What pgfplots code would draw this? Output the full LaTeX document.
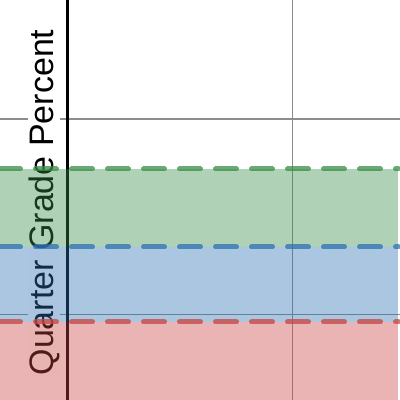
\documentclass[border=0pt]{standalone}
\usepackage{pgfplots}
\pgfplotsset{compat=1.18}
\usepackage{fontspec}
\setmainfont{Liberation Sans}
\definecolor{dred}{HTML}{C74440}
\definecolor{dblue}{HTML}{2D70B3}
\definecolor{dgreen}{HTML}{388C46}
\begin{document}
\begin{tikzpicture}
\begin{axis}[
  scale only axis, width=400pt, height=400pt,
  xmin=-0.2986, xmax=1.476, ymin=64.10, ymax=115.20,
  axis line style={draw=none},
  xtick={1}, ytick={75,100},
  xticklabels={}, yticklabels={},
  major tick length=0pt,
  grid=major,
  grid style={black!45, line width=1.3pt},
  clip=true,
]
\node[rotate=90, anchor=base, fill=white, inner sep=0.5pt,
      font=\fontsize{34}{40}\selectfont] at (axis cs:-0.0634,89.33) {Quarter Grade Percent};
% y-axis line
\addplot[black, line width=2.7pt] coordinates {(0,64.10) (0,115.20)};
% bands
\addplot[draw=none, fill=dred, fill opacity=0.4] coordinates {(-0.2986,64.10) (1.469,64.10) (1.469,74.07) (-0.2986,74.07)} -- cycle;
\addplot[draw=none, fill=dblue, fill opacity=0.4] coordinates {(-0.2986,74.07) (1.469,74.07) (1.469,83.65) (-0.2986,83.65)} -- cycle;
\addplot[draw=none, fill=dgreen, fill opacity=0.4] coordinates {(-0.2986,83.65) (1.469,83.65) (1.469,93.61) (-0.2986,93.61)} -- cycle;
% dashed boundaries
\addplot[dred, draw opacity=0.75, line width=5pt, line cap=round, dash pattern=on 21pt off 15pt, dash phase=0.5pt] coordinates {(-0.2986,74.07) (1.469,74.07)};
\addplot[dblue, draw opacity=0.75, line width=5pt, line cap=round, dash pattern=on 21pt off 15pt, dash phase=0.5pt] coordinates {(-0.2986,83.65) (1.469,83.65)};
\addplot[dgreen, draw opacity=0.75, line width=5pt, line cap=round, dash pattern=on 21pt off 15pt, dash phase=0.5pt] coordinates {(-0.2986,93.61) (1.469,93.61)};
\end{axis}
\pgfresetboundingbox
\path[use as bounding box] (current axis.south west) rectangle (current axis.north east);
\end{tikzpicture}
\end{document}
